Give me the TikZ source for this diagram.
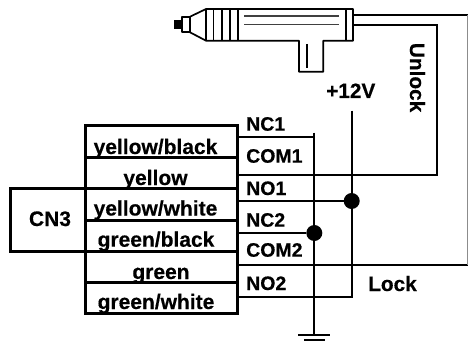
\documentclass[tikz,border=0pt]{standalone}
\usepackage{fontspec}
\setmainfont{Liberation Sans}[BoldFeatures={FakeBold=0.4}]

\begin{document}
\begin{tikzpicture}[x = 1pt, y = -1pt]
	\tikzstyle{wireLabel} = [inner sep = 0pt, font = \fontsize{21}{22}\selectfont\bfseries, anchor = base]
	\tikzstyle{pinLabel} = [inner sep = 0pt, font = \fontsize{19.5}{22}\selectfont\bfseries, anchor = base west]
	\tikzstyle{powerLabel} = [pinLabel, font = \fontsize{20.8}{22}\selectfont\bfseries]
	\tikzstyle{joinDot} = [shape = circle, minimum size = 16pt, inner sep = 0pt, fill]
	\tikzstyle{boxLine} = [line width = 3pt]
	\tikzstyle{wire} = [line width = 2pt]
	\tikzstyle{bodyLine} = [line width = 1.7pt, line join = round]
	\useasboundingbox (0,0) rectangle (468,342);

	% lock actuator
	\fill (173.5,20) rectangle (182,29.5);
	\draw[bodyLine] (182,16.7) rectangle (190,32.3);
	\draw[bodyLine] (190,16.7) -- (206,9) -- (353,9) -- (353,40.7) -- (323.3,40.7) -- (323.3,71.7) -- (299,71.7) -- (299,40.7) -- (206,40.7) -- (190,32.3);
	\foreach \ribx in {206, 213.5, 221.7, 230, 237.7, 346}
		\draw[bodyLine] (\ribx,9) -- (\ribx,40.7);
	\draw[line width = 1.4pt, black!75] (244,16) -- (339,16) (244,24.3) -- (339,24.3);
	\draw[line width = 1.1pt] (307,44) -- (307,68.3);

	% wire labels
	\node[wireLabel] (yb) at (155.5,154) {yellow/black};
	\node[wireLabel] (ye) at (155.5,185) {yellow};
	\node[wireLabel] (yw) at (155.5,215.5) {yellow/white};
	\node[wireLabel] (gb) at (156,246.7) {green/black};
	\node[wireLabel] (gr) at (161,279) {green};
	\node[wireLabel] (gw) at (156,309) {green/white};
	\node[wireLabel] (cn) at (50,226) {CN3};

	% connector boxes
	\draw[boxLine] (85,125.7) rectangle (237,313);
	\draw[boxLine] (85,188.7) -- (10,188.7) -- (10,251) -- (85,251);
	\foreach \liney in {157.7, 188.7, 220, 251, 282.7}
		\draw[boxLine] (85,\liney) -- (237,\liney);

	% pin labels
	\node[pinLabel] (nca) at (246,130.7) {NC1};
	\node[pinLabel] (coma) at (246,162.7) {COM1};
	\node[pinLabel] (noa) at (246,195) {NO1};
	\node[pinLabel] (ncb) at (246,226.7) {NC2};
	\node[pinLabel] (comb) at (246,256.7) {COM2};
	\node[pinLabel] (nob) at (246,290) {NO2};
	\node[powerLabel] (plus) at (326,98) {+12V};
	\node[powerLabel] (lock) at (368,291) {Lock};
	\node[powerLabel, rotate = -90] (unlock) at (410,42.7) {Unlock};

	% junctions and free ends
	\node[joinDot] (dotv) at (351.7,201) {};
	\node[joinDot] (dotg) at (314.3,233) {};
	\coordinate (ncawire) at (239,137.3);
	\coordinate (comawire) at (239,175);
	\coordinate (noawire) at (239,201);
	\coordinate (ncbwire) at (239,233);
	\coordinate (combwire) at (239,265);
	\coordinate (nobwire) at (239,297);
	\coordinate (gndtop) at (314.3,132.7);
	\coordinate (gnd) at (314.3,335);
	\coordinate (vtop) at (351.7,110.7);
	\coordinate (vbot) at (351.7,297);
	\coordinate (ulbend) at (436.7,175);
	\coordinate (ultop) at (436.7,25);
	\coordinate (ulend) at (354,25);
	\coordinate (topend) at (354,15);
	\coordinate (topright) at (467.6,15);
	\coordinate (lockright) at (467.6,265);

	% wires
	\draw[wire] (ncawire) -- (gndtop |- ncawire);
	\draw[wire] (gndtop) -- (gnd);
	\draw[wire] (vtop) -- (vbot) -- (nobwire);
	\draw[wire] (comawire) -- (ulbend) -- (ultop) -- (ulend);
	\draw[wire] (noawire) -- (dotv);
	\draw[wire] (ncbwire) -- (dotg);
	\draw[wire] (combwire) -- (lockright);
	\draw[wire] (topend) -- (topright);
	\draw[line width = 0.7pt, black!45] (topright) -- (lockright);

	% ground
	\coordinate (gnda) at (298,335);
	\coordinate (gndb) at (330,335);
	\coordinate (gndc) at (304,340);
	\coordinate (gndd) at (325,340);
	\draw[line width = 2pt] (gnda) -- (gndb);
	\draw[line width = 2pt] (gndc) -- (gndd);
\end{tikzpicture}
\end{document}
